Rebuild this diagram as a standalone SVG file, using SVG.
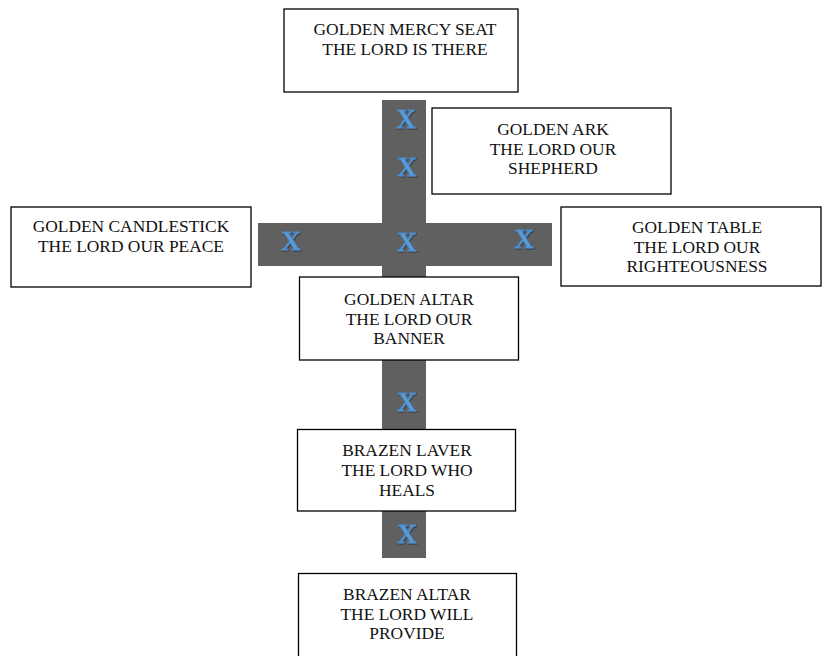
<svg xmlns="http://www.w3.org/2000/svg" width="825" height="656" viewBox="0 0 825 656">
<defs>
<filter id="sh" x="-30%" y="-30%" width="160%" height="160%">
<feDropShadow dx="0.8" dy="1" stdDeviation="0.6" flood-color="#000" flood-opacity="0.45"/>
</filter>
</defs>
<style>
.box{fill:#fff;stroke:#000;stroke-width:1.3}
.t{font-family:"Liberation Serif","Times New Roman",serif;font-size:17.4px;fill:#111;text-anchor:middle}
.bar{fill:#606060}
.x{font-family:"Liberation Serif","Times New Roman",serif;font-size:27px;font-weight:bold;fill:#5b9bd5;stroke:#4a88c8;stroke-width:0.8;text-anchor:middle;filter:url(#sh)}
</style>
<rect width="825" height="656" fill="#fff"/>
<g id="connectors">
<rect class="bar" x="382" y="100" width="44" height="458"/>
<rect class="bar" x="258" y="223" width="294" height="43"/>
<g id="marks">
<text class="x" x="406" y="128">X</text>
<text class="x" x="407" y="176">X</text>
<text class="x" x="291" y="250">X</text>
<text class="x" x="407" y="251">X</text>
<text class="x" x="524" y="248">X</text>
<text class="x" x="407" y="411">X</text>
<text class="x" x="407" y="543">X</text>
</g>
</g>
<g id="mercy-seat">
<rect class="box" x="284" y="9" width="234" height="83"/>
<text class="t" x="405" y="35">GOLDEN MERCY SEAT</text>
<text class="t" x="405" y="55">THE LORD IS THERE</text>
</g>
<g id="golden-ark">
<rect class="box" x="432" y="108" width="239" height="86"/>
<text class="t" x="553" y="135">GOLDEN ARK</text>
<text class="t" x="553" y="155">THE LORD OUR</text>
<text class="t" x="553" y="174">SHEPHERD</text>
</g>
<g id="golden-candlestick">
<rect class="box" x="11" y="207" width="240" height="80"/>
<text class="t" x="131" y="232">GOLDEN CANDLESTICK</text>
<text class="t" x="131" y="252">THE LORD OUR PEACE</text>
</g>
<g id="golden-table">
<rect class="box" x="561" y="207" width="260" height="79"/>
<text class="t" x="697" y="233">GOLDEN TABLE</text>
<text class="t" x="697" y="253">THE LORD OUR</text>
<text class="t" x="697" y="272">RIGHTEOUSNESS</text>
</g>
<g id="golden-altar">
<rect class="box" x="299.5" y="277" width="219" height="83"/>
<text class="t" x="409" y="305">GOLDEN ALTAR</text>
<text class="t" x="409" y="325">THE LORD OUR</text>
<text class="t" x="409" y="344">BANNER</text>
</g>
<g id="brazen-laver">
<rect class="box" x="297.5" y="429.5" width="218" height="81.5"/>
<text class="t" x="407" y="456">BRAZEN LAVER</text>
<text class="t" x="407" y="476">THE LORD WHO</text>
<text class="t" x="407" y="496">HEALS</text>
</g>
<g id="brazen-altar">
<rect class="box" x="298.5" y="573.5" width="218" height="90"/>
<text class="t" x="407" y="600">BRAZEN ALTAR</text>
<text class="t" x="407" y="620">THE LORD WILL</text>
<text class="t" x="407" y="639">PROVIDE</text>
</g>
</svg>
